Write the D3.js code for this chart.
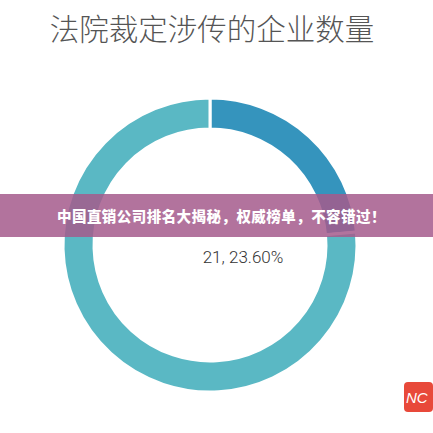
<!DOCTYPE html>
<html><head><meta charset="utf-8">
<script src="https://cdn.jsdelivr.net/npm/d3@7"></script>
<style>body{margin:0;background:#fff}</style></head>
<body><svg id="c" width="433" height="433"></svg>
<script>
const categories = ["涉传企业A", "其他"];
const values = [21, 68];
const labels = ["21, 23.60%"];
const colors = ["#3594bd", "#5ab8c4"];

const svg = d3.select("#c");
svg.append("text").attr("x", 212).attr("y", 40).attr("text-anchor", "middle")
  .attr("font-family", "Noto Sans CJK SC").attr("font-weight", 300).attr("font-size", 29.5)
  .attr("fill", "#555").text("法院裁定涉传的企业数量");

const g = svg.append("g").attr("transform", "translate(210,245)");
const pie = d3.pie().sort(null)(values);
const arc = d3.arc().innerRadius(116).outerRadius(147);
g.selectAll("path").data(pie).join("path").attr("d", arc)
  .attr("fill", (d, i) => colors[i]).attr("stroke", "#fff").attr("stroke-width", 3);

svg.append("text").attr("x", 243).attr("y", 263).attr("text-anchor", "middle")
  .attr("font-family", "Roboto").attr("font-weight", 300).attr("font-size", 17).attr("fill", "#333")
  .text(labels[0]);

svg.append("rect").attr("x", 0).attr("y", 194).attr("width", 433).attr("height", 43)
  .attr("fill", "#a45a8c").attr("opacity", 0.85);
svg.append("text").attr("x", 57).attr("y", 222).attr("font-family", "Noto Sans CJK SC")
  .attr("font-weight", 900).attr("font-size", 14.5).attr("letter-spacing", 0.45).attr("fill", "#fff")
  .text("中国直销公司排名大揭秘，权威榜单，不容错过！");

svg.append("rect").attr("x", 404).attr("y", 382).attr("width", 29).attr("height", 30).attr("rx", 4).attr("fill", "#e8493a");
svg.append("text").attr("x", 406).attr("y", 403).attr("font-family", "Liberation Sans").attr("font-style","italic").attr("font-size", 15).attr("fill", "#fff").text("NC");
</script></body></html>
